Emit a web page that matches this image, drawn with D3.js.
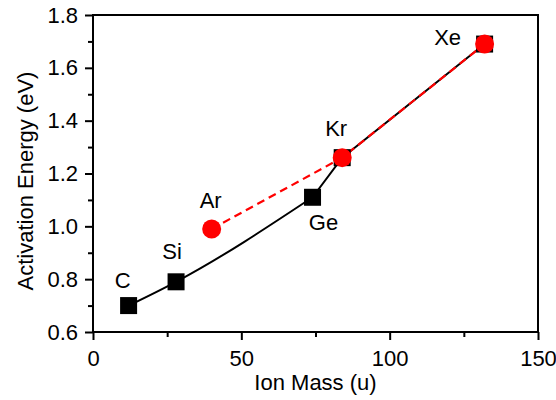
<!DOCTYPE html>
<html><head><meta charset="utf-8">
<script src="https://cdn.jsdelivr.net/npm/d3@7"></script>
<style>body{margin:0;background:#fff}svg{display:block}text{font-family:"Liberation Sans",Arial,sans-serif;fill:#000}</style>
</head><body><svg id="c" width="556" height="400"></svg>
<script>
const blackNames = ["C","Si","Ge","Kr","Xe"];
const blackMass = [12,28,74,84,132];
const blackEa = [0.70,0.79,1.11,1.26,1.69];
const redNames = ["Ar","Kr","Xe"];
const redMass = [40,84,132];
const redEa = [0.99,1.26,1.69];
const xTicks = [0,50,100,150];
const yTicks = [0.6,0.8,1.0,1.2,1.4,1.6,1.8];
const labelNames = ["C","Si","Ar","Ge","Kr","Xe"];
const labelMass = [12,28,40,74,84,132];
const labelEa = [0.70,0.79,0.99,1.11,1.26,1.69];

const m = {l:93,r:538,t:15,b:332};
const FS = 22;
const svg = d3.select("#c");
const x = d3.scaleLinear().domain([0,150]).range([m.l,m.r]);
const y = d3.scaleLinear().domain([0.6,1.8]).range([m.b,m.t]);

// frame
svg.append("rect").attr("x",m.l).attr("y",m.t).attr("width",m.r-m.l).attr("height",m.b-m.t)
  .attr("fill","none").attr("stroke","#000").attr("stroke-width",2);

// axes
const xa = svg.append("g").attr("transform",`translate(0,${m.b})`)
  .call(d3.axisBottom(x).tickValues(xTicks).tickSize(8).tickPadding(8).tickFormat(d3.format("d")));
const xm = svg.append("g").attr("transform",`translate(0,${m.b})`)
  .call(d3.axisBottom(x).tickValues([25,75,125]).tickSize(5).tickFormat(""));
const ya = svg.append("g").attr("transform",`translate(${m.l},0)`)
  .call(d3.axisLeft(y).tickValues(yTicks).tickSize(8).tickPadding(7).tickFormat(d3.format(".1f")));
const ym = svg.append("g").attr("transform",`translate(${m.l},0)`)
  .call(d3.axisLeft(y).tickValues([0.7,0.9,1.1,1.3,1.5,1.7]).tickSize(5).tickFormat(""));
[xa,xm,ya,ym].forEach(g=>{g.select(".domain").remove();g.attr("font-size",FS).attr("font-family","Liberation Sans, Arial, sans-serif");g.selectAll("line").attr("stroke","#000").attr("stroke-width",2);});
xa.selectAll("text").attr("dy",null).attr("y",null).attr("transform","translate(0,34)");

svg.append("text").attr("x",(m.l+m.r)/2).attr("y",390).attr("text-anchor","middle").attr("font-size",FS).text("Ion Mass (u)");
svg.append("text").attr("transform",`translate(33,181) rotate(-90)`).attr("text-anchor","middle").attr("font-size",FS).text("Activation Energy (eV)");

// lines: black is smoothed from C to Ge, straight afterwards; red is straight
const bl = blackMass.map((d,i)=>[d,blackEa[i]]);
const rl = redMass.map((d,i)=>[d,redEa[i]]);
const smooth = d3.line().x(d=>x(d[0])).y(d=>y(d[1])).curve(d3.curveMonotoneX);
const straight = d3.line().x(d=>x(d[0])).y(d=>y(d[1]));
function seriesPath(pts, names, smoothUntil){
  const k = names.indexOf(smoothUntil);
  if (k < 1) return straight(pts);
  const tail = straight(pts.slice(k)).replace(/^M[^L]*/, "");
  return smooth(pts.slice(0,k+1)) + tail;
}
svg.append("path").attr("d",seriesPath(bl, blackNames, "Ge"))
  .attr("fill","none").attr("stroke","#000").attr("stroke-width",2);
svg.append("path").attr("d",seriesPath(rl, redNames, null))
  .attr("fill","none").attr("stroke","#f00").attr("stroke-width",2.2).attr("stroke-dasharray","8,5");

// markers
const s = 17;
svg.selectAll("rect.pt").data(bl).join("rect").attr("class","pt")
  .attr("x",d=>x(d[0])-s/2).attr("y",d=>y(d[1])-s/2).attr("width",s).attr("height",s).attr("fill","#000");
svg.selectAll("circle.pt").data(rl).join("circle").attr("class","pt")
  .attr("cx",d=>x(d[0])).attr("cy",d=>y(d[1])).attr("r",9.5).attr("fill","#f00");

// labels
const off = {C:[-6,-18],Si:[-4,-23],Ar:[-1,-21],Ge:[11,33],Kr:[-6,-22],Xe:[-37,1]};
svg.selectAll("text.lab").data(labelNames).join("text").attr("class","lab")
  .attr("x",(d,i)=>x(labelMass[i])+off[d][0]).attr("y",(d,i)=>y(labelEa[i])+off[d][1])
  .attr("text-anchor","middle").attr("font-size",FS).text(d=>d);
</script></body></html>
